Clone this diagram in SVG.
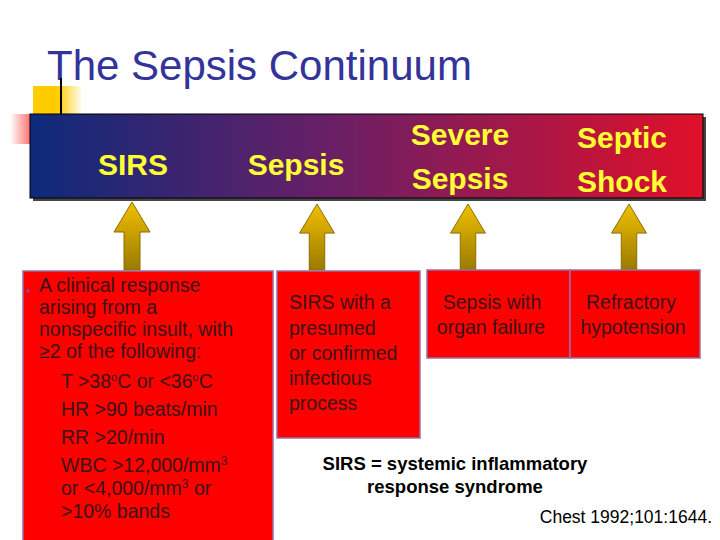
<svg xmlns="http://www.w3.org/2000/svg" width="720" height="540" viewBox="0 0 720 540">
<defs>
<linearGradient id="band" x1="0" x2="1" y1="0" y2="0">
<stop offset="0" stop-color="#0d2a7a"/><stop offset="0.45" stop-color="#6a1f66"/><stop offset="1" stop-color="#e0102a"/>
</linearGradient>
<linearGradient id="arr" x1="0" x2="0" y1="0" y2="1">
<stop offset="0" stop-color="#f0c000"/><stop offset="1" stop-color="#9a7a00"/>
</linearGradient>
<linearGradient id="sq" x1="0" x2="1"><stop offset="0.5" stop-color="#ffcc00"/><stop offset="1" stop-color="#ffcc00" stop-opacity="0"/></linearGradient>
<linearGradient id="pk" x1="1" x2="0"><stop offset="0" stop-color="#ff6666"/><stop offset="1" stop-color="#ff6666" stop-opacity="0"/></linearGradient>
<symbol id="up" viewBox="0 0 36 68" overflow="visible"><path d="M18 0 L36 30 L26 30 L26 68 L10 68 L10 30 L0 30 Z" fill="url(#arr)" stroke="#8a6d00" stroke-width="1"/></symbol>
</defs>
<style>
.hd{font-family:"Liberation Sans",Arial,sans-serif;font-weight:bold;fill:#ffff33;font-size:30px}
.bx{fill:#ff0000;stroke:#9a6fa0;stroke-width:1.5}
.t{font-family:"Liberation Sans",Arial,sans-serif;font-size:19.5px;fill:#3a1414}
.n{font-family:"Liberation Sans",Arial,sans-serif;font-weight:bold;font-size:18.5px;fill:#000}
</style>
<rect width="720" height="540" fill="#fff"/>
<g id="title"><text x="47" y="80" font-family="Liberation Sans,Arial,sans-serif" font-size="42" fill="#333399">The Sepsis Continuum</text></g>
<rect x="33" y="86" width="50" height="28" fill="url(#sq)"/>
<rect x="10" y="114" width="22" height="30" fill="url(#pk)"/>
<line x1="61" y1="78" x2="61" y2="116" stroke="#000" stroke-width="2"/>
<g id="banner">
<rect x="33" y="117" width="673" height="84" fill="#444"/>
<rect x="30" y="114" width="673" height="84" fill="url(#band)" stroke="#000" stroke-width="1"/>
<text class="hd" x="133" y="175" text-anchor="middle">SIRS</text>
<text class="hd" x="296" y="175" text-anchor="middle">Sepsis</text>
<text class="hd" x="460" y="145" text-anchor="middle">Severe</text>
<text class="hd" x="460" y="189" text-anchor="middle">Sepsis</text>
<text class="hd" x="622" y="148" text-anchor="middle">Septic</text>
<text class="hd" x="622" y="192" text-anchor="middle">Shock</text>
</g>
<g id="connectors">
<use href="#up" x="114" y="202" width="36" height="68"/>
<use href="#up" x="299" y="204" width="36" height="66"/>
<use href="#up" x="450" y="204" width="36" height="66"/>
<use href="#up" x="611" y="204" width="36" height="66"/>
</g>
<g id="sirs-box">
<rect class="bx" x="23" y="271" width="250" height="275"/>
<circle cx="28" cy="291" r="1.5" fill="#6060c0"/>
<text class="t" x="39" y="292">A clinical response</text>
<text class="t" x="39" y="314">arising from a</text>
<text class="t" x="39" y="336">nonspecific insult, with</text>
<text class="t" x="39" y="358">≥2 of the following:</text>
<text class="t" x="61" y="388">T &gt;38<tspan font-size="11" dy="-7">o</tspan><tspan dy="7">C or &lt;36</tspan><tspan font-size="11" dy="-7">o</tspan><tspan dy="7">C</tspan></text>
<text class="t" x="61" y="416">HR &gt;90 beats/min</text>
<text class="t" x="61" y="444">RR &gt;20/min</text>
<text class="t" x="61" y="472">WBC &gt;12,000/mm<tspan font-size="12" dy="-7">3</tspan></text>
<text class="t" x="61" y="495">or &lt;4,000/mm<tspan font-size="12" dy="-7">3</tspan><tspan dy="7"> or</tspan></text>
<text class="t" x="61" y="518">&gt;10% bands</text>
</g>
<g id="sepsis-box">
<rect class="bx" x="277" y="271" width="143" height="167"/>
<text class="t" x="289" y="309">SIRS with a</text>
<text class="t" x="289" y="335">presumed</text>
<text class="t" x="289" y="360">or confirmed</text>
<text class="t" x="289" y="385">infectious</text>
<text class="t" x="289" y="410">process</text>
</g>
<g id="severe-box">
<rect class="bx" x="427" y="270" width="143" height="88"/>
<text class="t" x="492" y="309" text-anchor="middle">Sepsis with</text>
<text class="t" x="491" y="334" text-anchor="middle">organ failure</text>
</g>
<g id="shock-box">
<rect class="bx" x="570" y="270" width="130" height="88"/>
<text class="t" x="631" y="309" text-anchor="middle">Refractory</text>
<text class="t" x="633" y="334" text-anchor="middle">hypotension</text>
</g>
<text class="n" x="455" y="470" text-anchor="middle">SIRS = systemic inflammatory</text>
<text class="n" x="455" y="493" text-anchor="middle">response syndrome</text>
<text x="712" y="523" text-anchor="end" font-family="Liberation Sans,Arial,sans-serif" font-size="17.5" fill="#000">Chest 1992;101:1644.</text>
</svg>
